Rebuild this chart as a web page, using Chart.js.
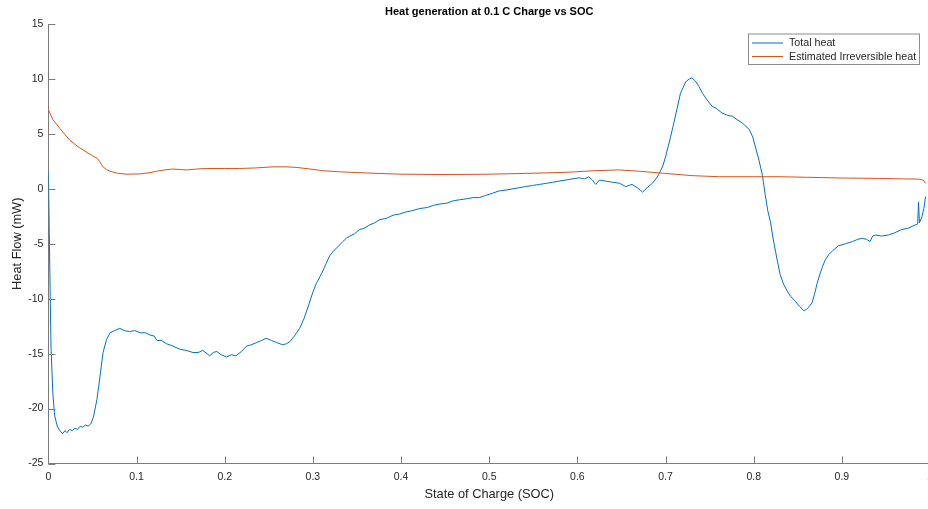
<!DOCTYPE html>
<html>
<head>
<meta charset="utf-8">
<script src="https://cdn.jsdelivr.net/npm/chart.js@4/dist/chart.umd.min.js"></script>
<style>
  html, body { margin: 0; padding: 0; background: #fff; overflow: hidden; }
  #wrap { width: 940px; height: 509px; }
</style>
</head>
<body>
<div id="wrap"><canvas id="grafico" width="940" height="509"></canvas></div>
<script>
// State of charge and heat flow (mW) for the measured total heat
var socTotal = [
  0.000, 0.001, 0.002, 0.003, 0.005, 0.007, 0.010, 0.013, 0.016, 0.019,
  0.021, 0.024, 0.027, 0.030, 0.033, 0.036, 0.039, 0.042, 0.045, 0.048,
  0.051, 0.055, 0.058, 0.062, 0.066, 0.070, 0.075, 0.081, 0.086, 0.092,
  0.098, 0.104, 0.110, 0.115, 0.120, 0.123, 0.128, 0.134, 0.141, 0.149,
  0.156, 0.164, 0.170, 0.175, 0.180, 0.183, 0.187, 0.191, 0.196, 0.202,
  0.208, 0.213, 0.219, 0.225, 0.230, 0.236, 0.242, 0.247, 0.253, 0.259,
  0.266, 0.270, 0.274, 0.280, 0.285, 0.290, 0.296, 0.300, 0.304, 0.310,
  0.315, 0.319, 0.323, 0.328, 0.334, 0.338, 0.342, 0.347, 0.353, 0.358,
  0.364, 0.370, 0.376, 0.383, 0.391, 0.398, 0.406, 0.412, 0.421, 0.430,
  0.437, 0.443, 0.452, 0.459, 0.466, 0.475, 0.482, 0.489, 0.496, 0.504,
  0.511, 0.520, 0.527, 0.534, 0.541, 0.549, 0.557, 0.565, 0.572, 0.579,
  0.587, 0.594, 0.602, 0.608, 0.613, 0.617, 0.621, 0.625, 0.632, 0.640,
  0.648, 0.655, 0.662, 0.668, 0.674, 0.679, 0.685, 0.690, 0.693, 0.697,
  0.700, 0.706, 0.712, 0.717, 0.723, 0.727, 0.730, 0.734, 0.738, 0.742,
  0.746, 0.749, 0.753, 0.758, 0.764, 0.770, 0.776, 0.781, 0.787, 0.791,
  0.795, 0.799, 0.802, 0.806, 0.810, 0.813, 0.816, 0.819, 0.822, 0.825,
  0.830, 0.834, 0.838, 0.842, 0.847, 0.852, 0.857, 0.861, 0.866, 0.869,
  0.872, 0.875, 0.878, 0.881, 0.885, 0.890, 0.896, 0.904, 0.912, 0.918,
  0.923, 0.928, 0.932, 0.935, 0.938, 0.945, 0.953, 0.960, 0.968, 0.975,
  0.983, 0.986, 0.987, 0.988, 0.991, 0.993, 0.995
];
var heatTotal = [
  1.5, -4.0, -9.5, -14.5, -18.5, -20.6, -21.6, -22.0, -22.3, -22.0,
  -22.2, -21.9, -22.0, -21.8, -21.9, -21.6, -21.7, -21.5, -21.6, -21.4,
  -20.8, -19.2, -17.4, -14.9, -13.7, -13.1, -12.9, -12.7, -12.9, -13.0,
  -12.9, -13.1, -13.1, -13.3, -13.4, -13.8, -13.8, -14.1, -14.3, -14.6,
  -14.7, -14.9, -14.9, -14.7, -15.0, -15.2, -14.9, -14.8, -15.1, -15.3,
  -15.1, -15.2, -14.8, -14.3, -14.2, -14.0, -13.8, -13.6, -13.8, -14.0,
  -14.2, -14.1, -13.9, -13.3, -12.7, -11.8, -10.4, -9.4, -8.6, -7.7,
  -6.8, -6.1, -5.7, -5.3, -4.8, -4.5, -4.3, -4.1, -3.7, -3.6,
  -3.3, -3.1, -2.8, -2.7, -2.4, -2.3, -2.1, -2.0, -1.8, -1.7,
  -1.5, -1.4, -1.3, -1.1, -1.0, -0.9, -0.8, -0.8, -0.6, -0.4,
  -0.2, -0.1, 0.0, 0.1, 0.2, 0.3, 0.4, 0.5, 0.6, 0.7,
  0.8, 0.9, 1.0, 0.9, 1.1, 0.8, 0.4, 0.8, 0.7, 0.6,
  0.5, 0.2, 0.4, 0.1, -0.3, 0.1, 0.5, 1.0, 1.4, 2.1,
  2.9, 4.8, 6.9, 8.7, 9.75, 10.0, 10.1, 9.8, 9.3, 8.7,
  8.2, 7.9, 7.5, 7.3, 6.9, 6.7, 6.6, 6.3, 6.0, 5.7,
  5.4, 4.7, 3.8, 2.6, 1.2, -0.5, -2.0, -3.0, -4.5, -5.8,
  -7.8, -8.7, -9.3, -9.8, -10.2, -10.7, -11.1, -10.9, -10.4, -9.6,
  -8.6, -7.8, -7.1, -6.5, -6.0, -5.6, -5.2, -5.0, -4.8, -4.6,
  -4.5, -4.6, -4.8, -4.3, -4.2, -4.3, -4.2, -4.0, -3.7, -3.6,
  -3.3, -3.2, -1.2, -3.1, -2.5, -1.8, -0.7
];

// Estimated irreversible heat
var socIrrev = [
  0.000, 0.005, 0.010, 0.013, 0.018, 0.024, 0.030, 0.036, 0.045, 0.050,
  0.055, 0.058, 0.062, 0.066, 0.070, 0.078, 0.089, 0.104, 0.115, 0.123,
  0.132, 0.141, 0.150, 0.157, 0.168, 0.179, 0.200, 0.217, 0.235, 0.255,
  0.270, 0.281, 0.295, 0.311, 0.330, 0.349, 0.375, 0.400, 0.450, 0.500,
  0.550, 0.587, 0.620, 0.647, 0.670, 0.700, 0.730, 0.761, 0.800, 0.830,
  0.860, 0.900, 0.940, 0.970, 0.987, 0.992, 0.995
];
var heatIrrev = [
  7.2, 6.3, 5.8, 5.5, 5.0, 4.45, 4.05, 3.7, 3.25, 3.0,
  2.8, 2.5, 2.0, 1.75, 1.6, 1.42, 1.33, 1.36, 1.47, 1.6,
  1.72, 1.8, 1.75, 1.72, 1.8, 1.85, 1.85, 1.85, 1.9, 2.0,
  2.0, 1.95, 1.82, 1.65, 1.55, 1.48, 1.4, 1.33, 1.3, 1.33,
  1.42, 1.5, 1.65, 1.72, 1.6, 1.4, 1.2, 1.1, 1.1, 1.1,
  1.05, 0.98, 0.95, 0.9, 0.88, 0.8, 0.5
];

var seriesLabels = ["Total heat", "Estimated Irreversible heat"];
var xTicks = [0, 0.1, 0.2, 0.3, 0.4, 0.5, 0.6, 0.7, 0.8, 0.9, 1];
var yTicks = [-25, -20, -15, -10, -5, 0, 5, 10, 15];

var fontFamily = "'Liberation Sans', Arial, Helvetica, sans-serif";
var textColor = "#262626";
var axisColor = "#7a7a7a";

var toPoints = function (xs, ys) {
  return xs.map(function (v, i) { return { x: v, y: ys[i] }; });
};

// MATLAB-style ticks pointing into the plot area
var inwardTicks = {
  id: "inwardTicks",
  afterDatasetsDraw: function (chart) {
    var ctx = chart.ctx, area = chart.chartArea;
    var x = chart.scales.x, y = chart.scales.y;
    ctx.save();
    ctx.strokeStyle = axisColor;
    ctx.lineWidth = 1;
    ctx.beginPath();
    x.ticks.forEach(function (t) {
      var px = Math.round(x.getPixelForValue(t.value)) + 0.5;
      ctx.moveTo(px, area.bottom);
      ctx.lineTo(px, area.bottom - 7);
    });
    y.ticks.forEach(function (t) {
      var py = Math.round(y.getPixelForValue(t.value)) + 0.5;
      ctx.moveTo(area.left, py);
      ctx.lineTo(area.left + 7, py);
    });
    ctx.stroke();
    ctx.restore();
  }
};

// title centred on the axes and boxed legend in the upper right corner
var titleAndLegend = {
  id: "titleAndLegend",
  afterDraw: function (chart) {
    var ctx = chart.ctx, area = chart.chartArea;
    ctx.save();
    ctx.fillStyle = "#000";
    ctx.font = "bold 11px " + fontFamily;
    ctx.textAlign = "center";
    ctx.textBaseline = "middle";
    ctx.fillText("Heat generation at 0.1 C Charge vs SOC", (area.left + area.right) / 2, 12);

    var bx = 748, by = 33.5, bw = 171, bh = 30.5;
    ctx.fillStyle = "#fff";
    ctx.fillRect(bx, by, bw, bh);
    ctx.strokeStyle = "#8c8c8c";
    ctx.lineWidth = 1;
    ctx.strokeRect(bx + 0.5, by + 0.5, bw, bh);
    ctx.font = "10.7px " + fontFamily;
    ctx.textAlign = "left";
    chart.data.datasets.forEach(function (ds, i) {
      var ry = by + 9.5 + i * 13.5;
      ctx.strokeStyle = ds.borderColor;
      ctx.beginPath();
      ctx.moveTo(bx + 4, ry);
      ctx.lineTo(bx + 35, ry);
      ctx.stroke();
      ctx.fillStyle = textColor;
      ctx.fillText(ds.label, bx + 41, ry + 0.5);
    });
    ctx.restore();
  }
};

var ctx = document.getElementById("grafico").getContext("2d");
var myChart = new Chart(ctx, {
  type: "line",
  data: {
    datasets: [
      {
        label: seriesLabels[0],
        data: toPoints(socTotal, heatTotal),
        borderColor: "#0072BD",
        borderWidth: 1,
        pointRadius: 0,
        tension: 0,
        order: 2,
      },
      {
        label: seriesLabels[1],
        data: toPoints(socIrrev, heatIrrev),
        borderColor: "#D95319",
        borderWidth: 1,
        pointRadius: 0,
        tension: 0,
        order: 1,
      },
    ],
  },
  options: {
    responsive: false,
    animation: false,
    layout: { padding: { left: 0, top: 24, right: 10, bottom: 0 } },
    plugins: {
      legend: { display: false },
      title: { display: false },
      tooltip: { enabled: false },
    },
    scales: {
      x: {
        type: "linear",
        min: 0,
        max: 1,
        afterBuildTicks: function (scale) {
          scale.ticks = xTicks.map(function (v) { return { value: v }; });
        },
        afterFit: function (scale) { scale.height = 45.5; },
        grid: { display: false, drawTicks: false },
        border: { display: true, color: axisColor, width: 1 },
        ticks: {
          padding: 7,
          autoSkip: false,
          color: textColor,
          font: { family: fontFamily, size: 10.5 },
          maxRotation: 0,
          callback: function (v) { return String(Math.round(v * 10) / 10); },
        },
        title: {
          display: true,
          text: "State of Charge (SOC)",
          color: textColor,
          font: { family: fontFamily, size: 12.8 },
          padding: { top: 0, bottom: 7 },
        },
      },
      y: {
        min: -25,
        max: 15,
        afterBuildTicks: function (scale) {
          scale.ticks = yTicks.map(function (v) { return { value: v }; });
        },
        afterFit: function (scale) { scale.width = 48.4; },
        grid: { display: false, drawTicks: false },
        border: { display: true, color: axisColor, width: 1 },
        ticks: {
          padding: 5,
          autoSkip: false,
          color: textColor,
          font: { family: fontFamily, size: 10.5 },
        },
        title: {
          display: true,
          text: "Heat Flow (mW)",
          color: textColor,
          font: { family: fontFamily, size: 12.8 },
          padding: { top: 10, bottom: 0 },
        },
      },
    },
  },
  plugins: [inwardTicks, titleAndLegend],
});
</script>
</body>
</html>
